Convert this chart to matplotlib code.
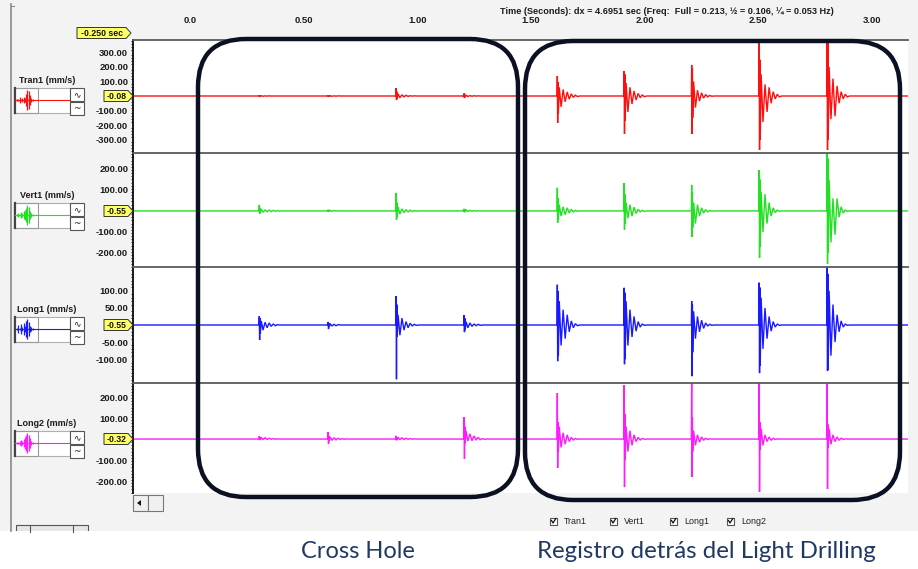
import matplotlib
matplotlib.use("Agg")
import numpy as np
import matplotlib.pyplot as plt
from matplotlib.patches import Rectangle, FancyBboxPatch, Polygon
from matplotlib.ticker import MultipleLocator

# ---------------------------------------------------------------- data
# event onset times (s)
cross_hole_t = [0.304, 0.607, 0.906, 1.205]
drilling_t = [1.615, 1.909, 2.206, 2.503, 2.802]
event_t = cross_hole_t + drilling_t

# sample offsets inside each burst (ms)
burst_ms = [0, 1.5, 3, 4.5, 6, 10, 18, 27, 36, 45, 54, 63, 72, 81, 90, 100]

# burst amplitudes (mm/s), one row per event, same order as event_t
tran1_bursts = [
    [0, 4, -3, 3, -2, 2, -2, 1, -1, 1, 0, 0, 0, 0, 0, 0],
    [0, 5, -4, 3, -3, 2, -2, 1, -1, 1, 0, 0, 0, 0, 0, 0],
    [0, 55, -28, 30, -20, 15, -12, 8, -6, 5, -3, 2, -1, 1, 0, 0],
    [0, 18, -14, 10, -8, 6, -4, 3, -2, 2, -1, 1, 0, 0, 0, 0],
    [0, 138, -186, 95, -120, 60, -75, 45, -40, 28, -22, 15, -10, 6, -4, 0],
    [0, 172, -262, 150, -170, 90, -110, 60, -55, 35, -28, 18, -12, 8, -5, 0],
    [0, 214, -262, 190, -150, 100, -80, 40, -35, 22, -15, 10, -6, 4, -2, 0],
    [0, 365, -372, 250, -300, 150, -180, 80, -110, 60, -50, 30, -20, 12, -6, 0],
    [0, 400, -372, 380, -300, 200, -160, 120, -140, 70, -50, 30, -20, 12, -6, 0],
]
vert1_bursts = [
    [0, 29, -14, 15, -10, 8, -6, 5, -4, 4, -3, 3, -2, 2, -1, 0],
    [0, 6, -4, 4, -3, 3, -2, 2, -1, 1, 0, 0, 0, 0, 0, 0],
    [0, 86, -43, 40, -30, 20, -15, 10, -8, 6, -5, 4, -3, 2, -1, 0],
    [0, 10, -6, 8, -5, 5, -3, 3, -2, 2, -1, 1, 0, 0, 0, 0],
    [0, 110, -57, 60, -40, 30, -25, 20, -18, 15, -10, 8, -5, 3, -2, 0],
    [0, 133, -90, 80, -60, 40, -35, 30, -25, 18, -12, 8, -5, 3, -2, 0],
    [0, 124, -124, 90, -80, 40, -60, 30, -25, 15, -10, 6, -4, 2, -1, 0],
    [0, 195, -224, 150, -171, 90, -100, 80, -60, 40, -25, 15, -8, 4, -2, 0],
    [0, 290, -252, 250, -200, 150, -150, 60, -114, 60, -30, 20, -10, 5, -2, 0],
]
long1_bursts = [
    [0, 26, -44, 20, -25, 12, -15, 8, -8, 6, -4, 3, -2, 1, 0, 0],
    [0, 9, -12, 6, -6, 4, -3, 2, -2, 1, 0, 0, 0, 0, 0, 0],
    [0, 85, -159, 60, -35, 30, -30, 20, -15, 10, -8, 5, -3, 2, -1, 0],
    [0, 29, -21, 20, -15, 10, -8, 6, -4, 3, -2, 2, -1, 0, 0, 0],
    [0, 118, -106, 100, -90, 70, -60, 45, -40, 30, -20, 12, -8, 4, -2, 0],
    [0, 109, -115, 95, -100, 70, -60, 45, -35, 25, -18, 10, -6, 3, -1, 0],
    [0, 70, -150, 60, -80, 40, -40, 25, -20, 14, -10, 6, -3, 2, -1, 0],
    [0, 124, -141, 110, -120, 80, -70, 50, -40, 25, -18, 10, -6, 3, -1, 0],
    [0, 170, -135, 150, -130, 100, -90, 60, -50, 30, -20, 12, -6, 3, -1, 0],
]
long2_bursts = [
    [0, 14, -5, 10, -4, 8, -3, 6, -2, 4, -1, 2, -1, 1, 0, 0],
    [0, 33, -24, 15, -10, 10, -6, 6, -4, 4, -2, 2, -1, 1, 0, 0],
    [0, 15, -6, 10, -4, 8, -3, 6, -2, 4, -1, 2, -1, 1, 0, 0],
    [0, 105, -95, 60, -20, 40, -10, 25, -8, 15, -5, 8, -3, 2, -1, 0],
    [0, 219, -138, 81, -60, 60, -40, 30, -25, 20, -12, 8, -5, 3, -1, 0],
    [0, 257, -229, 120, -100, 60, -60, 40, -30, 20, -12, 8, -5, 3, -1, 0],
    [0, 280, -181, 105, -60, 40, -30, 20, -15, 10, -6, 4, -2, 1, 0, 0],
    [0, 280, -252, 80, -50, 50, -30, 20, -12, 10, -6, 4, -2, 1, 0, 0],
    [0, 280, -238, 70, -40, 50, -25, 20, -12, 10, -6, 4, -2, 1, 0, 0],
]

channel_names = ["Tran1", "Vert1", "Long1", "Long2"]
channel_units = "(mm/s)"
channel_colors = ["#ff1010", "#22e022", "#1a1aff", "#ff1aff"]
zero_values = ["-0.08", "-0.55", "-0.55", "-0.32"]
y_limits = [(-393, 386), (-267, 276), (-170, 170), (-257, 267)]
y_ticks = [[300, 200, 100, -100, -200, -300],
           [200, 100, -100, -200],
           [100, 50, -50, -100],
           [200, 100, -100, -200]]
ruler_steps = [20, 15, 10, 15]

time_ticks = [0.0, 0.5, 1.0, 1.5, 2.0, 2.5, 3.0]
time_labels = ["0.0", "0.50", "1.00", "1.50", "2.00", "2.50", "3.00"]
t_start, t_end = -0.25, 3.159

# overview thumbnails: spike half-heights (px)
thumb_spikes = [
    [1, 1, 3, 1, 2, 3, 2, 6, 10, 9, 5, 2, 1],
    [1, 2, 1, 3, 2, 4, 5, 7, 10, 8, 4, 2, 1],
    [1, 4, 1, 5, 2, 6, 3, 8, 10, 7, 3, 2, 1],
    [1, 1, 2, 3, 2, 4, 6, 8, 10, 8, 5, 2, 1],
]

header = ("Time (Seconds): dx = 4.6951 sec (Freq:  Full = 0.213, "
          "\u00bd = 0.106, \u00bc = 0.053 Hz)")
caption_left = "Cross Hole"
caption_right = "Registro detrás del Light Drilling"

# ---------------------------------------------------------------- layout
W, H = 918, 569
UI = "Liberation Sans"
plt.rcParams["font.family"] = [UI, "DejaVu Sans"]

fig = plt.figure(figsize=(W / 100, H / 100), dpi=100)
fig.patch.set_facecolor("white")


def frac(x0, y0, x1, y1):
    return [x0 / W, 1 - y1 / H, (x1 - x0) / W, (y1 - y0) / H]


bg = fig.add_axes([0, 0, 1, 1], zorder=0)
bg.set_xlim(0, W)
bg.set_ylim(H, 0)
bg.axis("off")

ov = fig.add_axes([0, 0, 1, 1], zorder=5)
ov.set_xlim(0, W)
ov.set_ylim(H, 0)
ov.axis("off")

# window background
bg.add_patch(Rectangle((0, 0), W, 531, fc="#f3f3f3", ec="none"))
bg.plot([11, 11], [4, 531], color="#8a8a8a", lw=1.2)
bg.plot([11, 14], [6, 6], color="#8a8a8a", lw=0.8)

panel_px = [(40, 153), (153, 267), (267, 383), (383, 493)]
centers = [96, 211, 325, 439]
x_left, x_right = 133, 908

bursts_all = [tran1_bursts, vert1_bursts, long1_bursts, long2_bursts]

for i in range(4):
    top, bot = panel_px[i]
    ax = fig.add_axes(frac(x_left, top, x_right, bot), zorder=1)
    ax.set_facecolor("white")
    ax.set_xlim(t_start, t_end)
    ax.set_ylim(*y_limits[i])

    # trace: flat baseline joined through every burst
    tt = [t_start]
    vv = [0.0]
    for te, amps in zip(event_t, bursts_all[i]):
        for ms, a in zip(burst_ms, amps):
            tt.append(te + ms / 1000.0)
            vv.append(a)
    tt.append(t_end)
    vv.append(0.0)
    ax.plot(tt, vv, color=channel_colors[i], lw=1.0, solid_joinstyle="miter")

    for s in ("right", "bottom"):
        ax.spines[s].set_visible(False)
    ax.spines["top"].set_color("#5a5a5a")
    ax.spines["top"].set_linewidth(1.3)
    ax.spines["left"].set_color("#1a1a1a")
    ax.spines["left"].set_linewidth(1.4)

    ax.set_yticks(y_ticks[i])
    ax.set_yticklabels([f"{v:.2f}" for v in y_ticks[i]])
    ax.yaxis.set_minor_locator(MultipleLocator(ruler_steps[i]))
    ax.tick_params(axis="y", which="major", length=0, pad=3.5,
                   labelsize=6.8, labelcolor="#1c1c1c")
    ax.tick_params(axis="y", which="minor", length=1.8, width=0.7,
                   direction="out", color="#222222")
    for lab in ax.get_yticklabels():
        lab.set_fontweight("bold")

    if i == 0:
        ax.xaxis.tick_top()
        ax.set_xticks(time_ticks)
        ax.set_xticklabels(time_labels)
        ax.tick_params(axis="x", length=0, pad=10.5, labelsize=6.8,
                       labelcolor="#1c1c1c")
        for lab in ax.get_xticklabels():
            lab.set_fontweight("bold")
    else:
        ax.set_xticks([])

    # left-hand channel block
    c = centers[i]
    bg.text(47, c - 16, f"{channel_names[i]} {channel_units}", ha="center",
            va="center", fontsize=6.5, fontweight="bold", color="#1c1c1c")
    bg.add_patch(Rectangle((14, c - 8), 56, 25, fc="white", ec="#b0b0b0", lw=0.8))
    bg.add_patch(Rectangle((14, c - 8), 24, 25, fc="none", ec="#9a9a9a", lw=0.8))
    bg.plot([14.5, 14.5], [c - 8, c + 17], color="#444444", lw=1.6)
    bg.plot([15, 69], [c + 4, c + 4], color=channel_colors[i], lw=0.8)
    xs = 17 + 1.3 * np.arange(len(thumb_spikes[i]))
    hs = np.array(thumb_spikes[i])
    bg.vlines(xs, c + 4 - hs, c + 4 + hs, color=channel_colors[i], lw=0.9)
    for (by0, by1, icon) in ((c - 8, c + 5, "\u223f"), (c + 6, c + 19, "~")):
        bg.add_patch(Rectangle((70, by0), 14, by1 - by0, fc="white",
                               ec="#555555", lw=0.8))
        bg.text(77, (by0 + by1) / 2, icon, ha="center", va="center",
                fontsize=6.5, color="#222222", family="DejaVu Sans")

    # zero-level marker tag
    ov.add_patch(Polygon([(104, c - 5.5), (128, c - 5.5), (133, c),
                          (128, c + 5.5), (104, c + 5.5)],
                         closed=True, fc="#ffff66", ec="#333333", lw=0.7))
    ov.text(117, c + 0.3, zero_values[i], ha="center", va="center",
            fontsize=6.2, fontweight="bold", color="#111111")

# start-time tag
ov.add_patch(Polygon([(77, 27.5), (126, 27.5), (131, 33), (126, 38.5), (77, 38.5)],
                     closed=True, fc="#ffff66", ec="#333333", lw=0.7))
ov.text(102, 33.3, "-0.250 sec", ha="center", va="center", fontsize=6.3,
        fontweight="bold", color="#111111")

# header
bg.text(667, 11, header, ha="center", va="center", fontsize=6.6,
        fontweight="bold", color="#1c1c1c")

# highlight frames
frame_kw = dict(boxstyle="round,pad=0,rounding_size=48", fill=False,
                ec="#0b1122", lw=3.2, zorder=6)
ov.add_patch(FancyBboxPatch((198, 39), 320, 458, **frame_kw))
ov.add_patch(FancyBboxPatch((525, 41), 375, 459, **frame_kw))

# scroll buttons under the panels
bg.add_patch(Rectangle((133, 495), 15, 16, fc="#f0f0f0", ec="#777777", lw=0.8))
bg.add_patch(Rectangle((148, 495), 15, 16, fc="#f0f0f0", ec="#777777", lw=0.8))
bg.add_patch(Polygon([(137, 503), (141, 500), (141, 506)], closed=True,
                     fc="#111111", ec="none"))

# small toolbar at lower left
bg.add_patch(Rectangle((16, 525), 72, 7, fc="#e6e6e6", ec="#555555", lw=0.8))
bg.plot([30, 30], [525, 532], color="#555555", lw=0.8)
bg.plot([73, 73], [525, 532], color="#555555", lw=0.8)
bg.add_patch(Rectangle((0, 531), W, H - 531, fc="white", ec="none"))

# channel check boxes
for xb, name in zip([550, 610, 670, 727], channel_names):
    bg.add_patch(Rectangle((xb, 517.5), 7, 7, fc="white", ec="#555555", lw=0.8))
    bg.plot([xb + 1.5, xb + 3, xb + 5.8], [520.5, 523, 518.5],
            color="#111111", lw=0.9)
    bg.text(xb + 14, 521.5, name, ha="left", va="center", fontsize=6.4,
            color="#222222")

# captions
bg.text(358, 551, caption_left, ha="center", va="center", fontsize=17,
        color="#1f3864", family=["Lato", "DejaVu Sans"])
bg.text(706, 551, caption_right, ha="center", va="center", fontsize=17.3,
        color="#1f3864", family=["Lato", "DejaVu Sans"])

fig.savefig("out.png", dpi=100)
